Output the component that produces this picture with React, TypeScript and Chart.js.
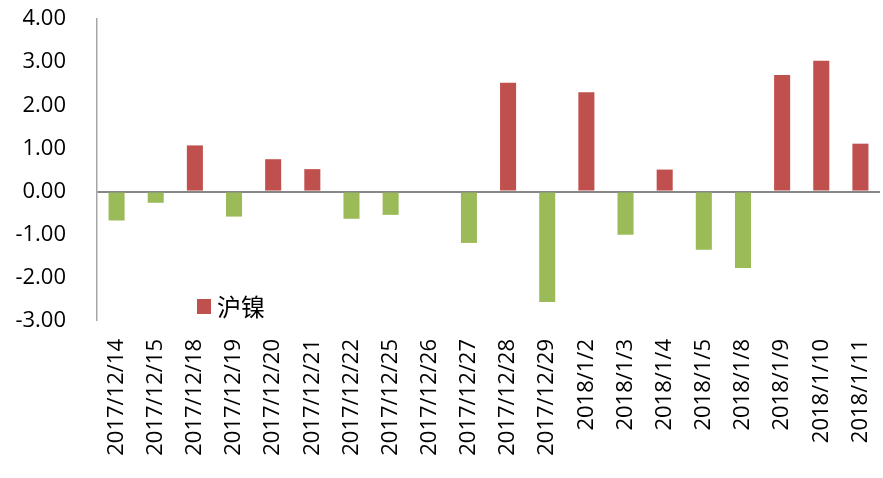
import React, { useEffect, useRef } from "react";
import { Chart, registerables } from "chart.js";

Chart.register(...registerables);

const categories: string[] = [
  "2017/12/14", "2017/12/15", "2017/12/18", "2017/12/19", "2017/12/20",
  "2017/12/21", "2017/12/22", "2017/12/25", "2017/12/26", "2017/12/27",
  "2017/12/28", "2017/12/29", "2018/1/2", "2018/1/3", "2018/1/4",
  "2018/1/5", "2018/1/8", "2018/1/9", "2018/1/10", "2018/1/11",
];

const values: number[] = [
  -0.67, -0.26, 1.07, -0.58, 0.75, 0.52, -0.63, -0.54, 0, -1.19,
  2.52, -2.56, 2.3, -1.0, 0.51, -1.35, -1.77, 2.7, 3.03, 1.11,
];

const seriesName = "沪镍";
const yMin = -3;
const yMax = 4;
const yStep = 1;

const RED = "#C0504D";
const GREEN = "#9BBB59";
const AXIS = "#868686";

const legendPlugin = {
  id: "insideLegend",
  afterDatasetsDraw(chart: any) {
    const { ctx, chartArea } = chart;
    const x = chartArea.left + 100;
    const y = chartArea.bottom - 22;
    ctx.save();
    ctx.fillStyle = RED;
    ctx.fillRect(x, y, 14, 15);
    ctx.fillStyle = "#000";
    ctx.font = '24px "Noto Sans CJK SC"';
    ctx.textBaseline = "middle";
    ctx.textAlign = "left";
    ctx.fillText(seriesName, x + 20, y + 7.5);
    ctx.restore();
  },
};

export default function App() {
  const ref = useRef<HTMLCanvasElement | null>(null);

  useEffect(() => {
    document.body.style.margin = "0";
    if (!ref.current) return;
    const chart = new Chart(ref.current, {
      type: "bar",
      data: {
        labels: categories,
        datasets: [
          {
            label: seriesName,
            data: values,
            backgroundColor: values.map((v) => (v >= 0 ? RED : GREEN)),
            borderWidth: 0,
            categoryPercentage: 1,
            barPercentage: 0.41,
          },
        ],
      },
      options: {
        animation: false,
        responsive: false,
        maintainAspectRatio: false,
        layout: { padding: { top: 19, right: 3, left: 0, bottom: 0 } },
        plugins: {
          legend: { display: false },
          tooltip: { enabled: false },
        },
        scales: {
          x: {
            grid: { display: false, drawTicks: false },
            border: { display: false },
            ticks: {
              autoSkip: false,
              maxRotation: 90,
              minRotation: 90,
              padding: 18,
              color: "#000",
              font: { family: '"Open Sans"', size: 22 },
            },
            afterFit(scale: any) {
              scale.height = 157;
              scale.paddingLeft = 0;
              scale.paddingRight = 0;
            },
          },
          y: {
            min: yMin,
            max: yMax,
            grid: {
              drawTicks: false,
              color: (c: any) => (c.tick && c.tick.value === 0 ? AXIS : "rgba(0,0,0,0)"),
              lineWidth: (c: any) => (c.tick && c.tick.value === 0 ? 2 : 0),
            },
            border: { display: true, color: "#A6A6A6", width: 1.5 },
            ticks: {
              stepSize: yStep,
              padding: 31,
              color: "#000",
              font: { family: '"Open Sans"', size: 22 },
              callback: (v: any) => Number(v).toFixed(2),
            },
            afterFit(scale: any) {
              scale.width = 97;
              scale.paddingTop = 0;
              scale.paddingBottom = 0;
            },
          },
        },
      },
      plugins: [legendPlugin],
    });
    return () => chart.destroy();
  }, []);

  return (
    <div style={{ position: "fixed", left: 0, top: 0, width: 883, height: 478 }}>
      <canvas ref={ref} width={883} height={478} style={{ display: "block" }} />
    </div>
  );
}
